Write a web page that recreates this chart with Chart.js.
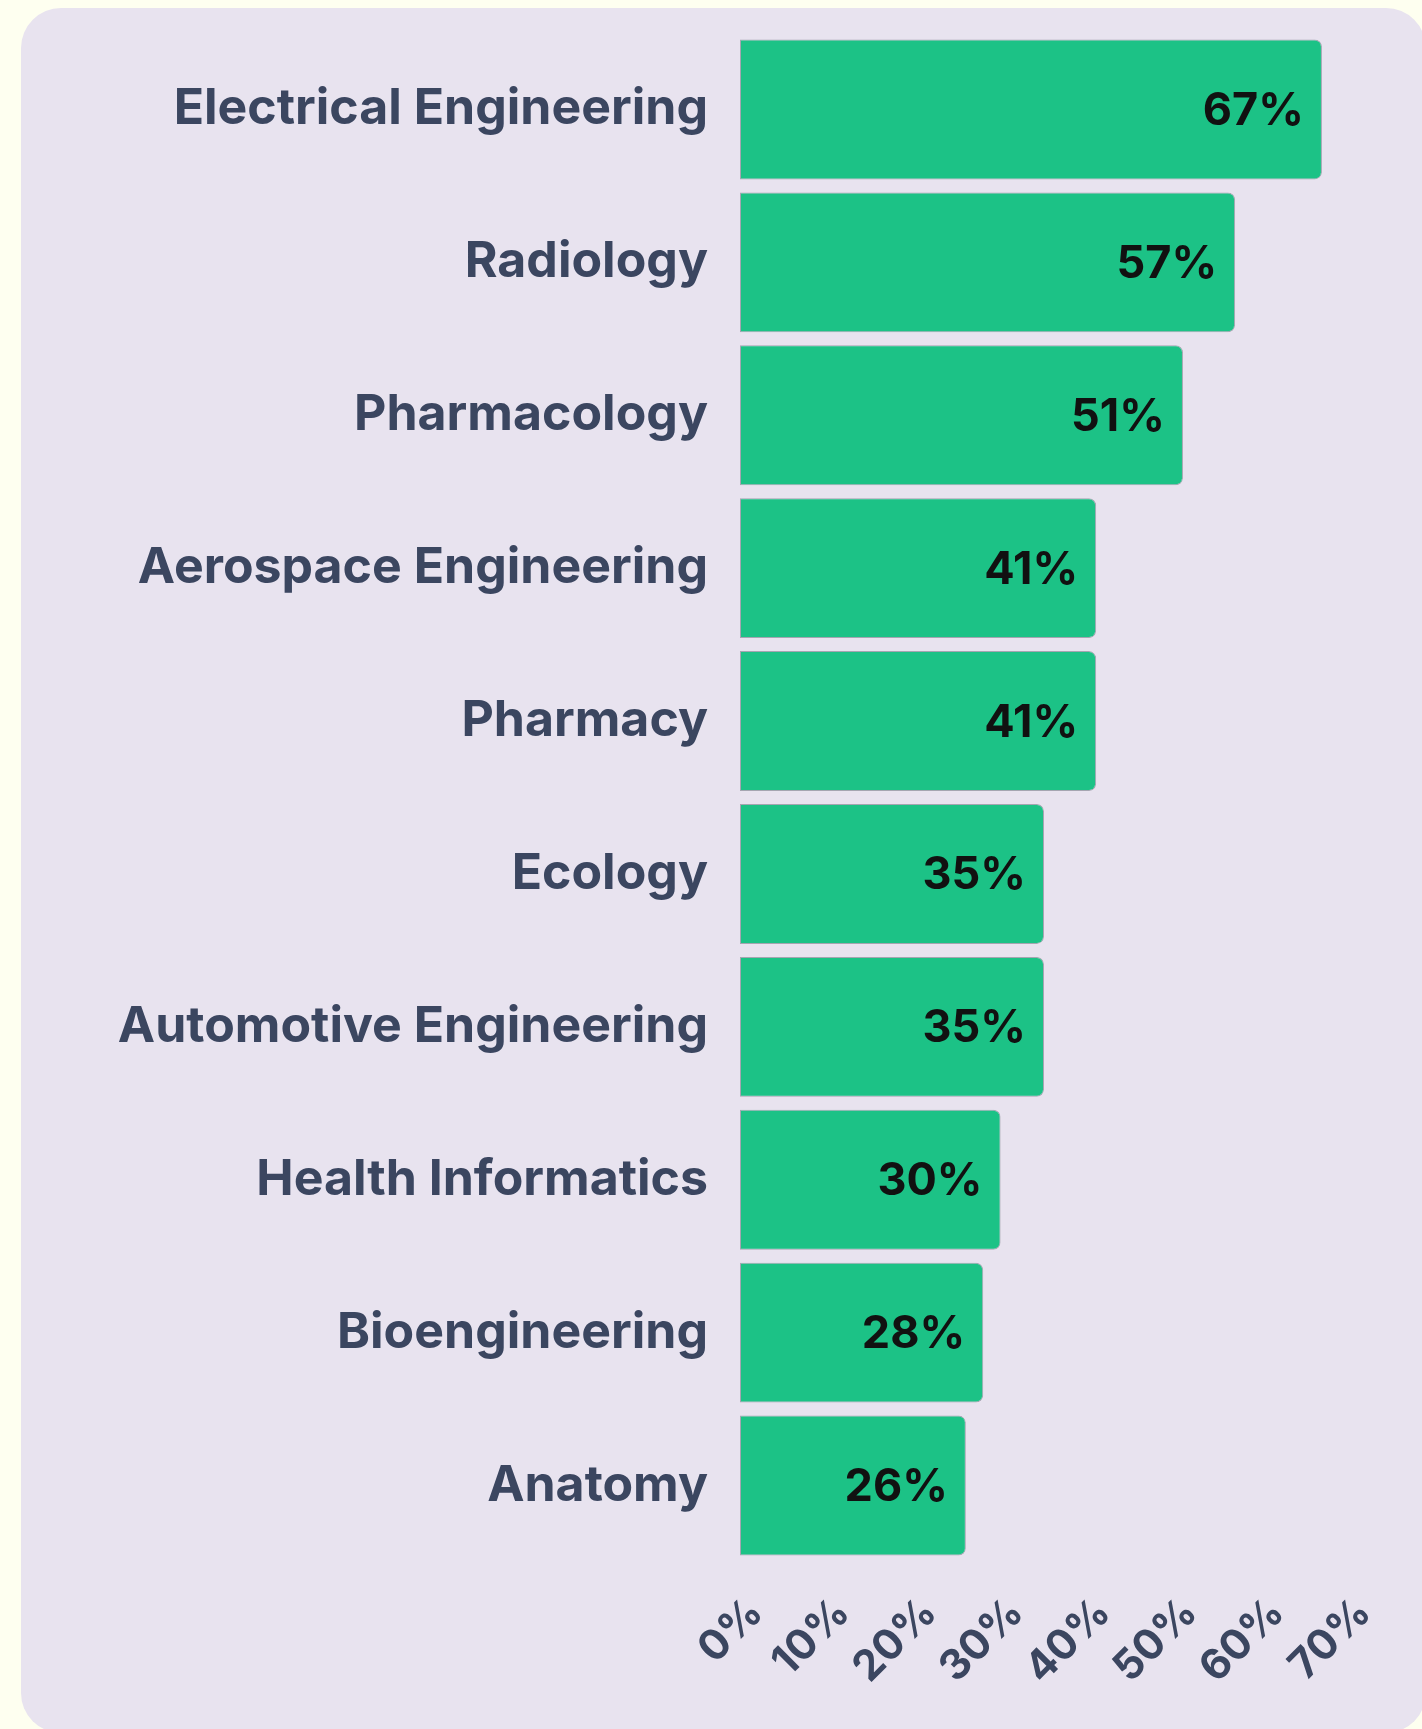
<!DOCTYPE html>
<html lang="en">

<head>
    <meta charset="UTF-8">
    <title>Programs by Share</title>
    <script src="https://cdn.jsdelivr.net/npm/chart.js"></script>
    <style>
        html, body {
            margin: 0;
            padding: 0;
            background: #fefff0;
            overflow: hidden;
        }
        .card {
            position: absolute;
            left: 21px;
            top: 8px;
            width: 1405px;
            height: 1725px;
            background: #e8e3ef;
            border-radius: 40px;
        }
        #chart {
            position: absolute;
            left: 0;
            top: 0;
        }
    </style>
</head>

<body>
    <div class="card"></div>
    <canvas id="chart" width="1422" height="1729"></canvas>

    <script>
        const programs = [
            'Electrical Engineering',
            'Radiology',
            'Pharmacology',
            'Aerospace Engineering',
            'Pharmacy',
            'Ecology',
            'Automotive Engineering',
            'Health Informatics',
            'Bioengineering',
            'Anatomy'
        ];
        const shares = [67, 57, 51, 41, 41, 35, 35, 30, 28, 26];

        const slate = '#3b4660';
        const fontFamily = 'Inter, "Noto Sans", sans-serif';

        // writes the percentage inside the end of each bar
        const valueLabels = {
            id: 'valueLabels',
            afterDatasetsDraw(chart) {
                const ctx = chart.ctx;
                const meta = chart.getDatasetMeta(0);
                ctx.save();
                ctx.font = `700 45px ${fontFamily}`;
                ctx.fillStyle = '#111111';
                ctx.textAlign = 'right';
                ctx.textBaseline = 'middle';
                meta.data.forEach((bar, i) => {
                    ctx.fillText(shares[i] + '%', bar.x - 18, bar.y + 2);
                });
                ctx.restore();
            }
        };

        new Chart(document.getElementById('chart'), {
            type: 'bar',
            data: {
                labels: programs,
                datasets: [{
                    data: shares,
                    backgroundColor: '#1cc286',
                    borderColor: 'rgba(110, 115, 125, 0.55)',
                    borderWidth: 1,
                    borderSkipped: false,
                    borderRadius: { topLeft: 0, bottomLeft: 0, topRight: 7, bottomRight: 7 },
                    categoryPercentage: 1,
                    barPercentage: 0.915
                }]
            },
            options: {
                indexAxis: 'y',
                responsive: false,
                animation: false,
                layout: {
                    padding: { top: 33, right: 74, bottom: 0, left: 0 }
                },
                plugins: {
                    legend: { display: false },
                    tooltip: { enabled: false }
                },
                scales: {
                    x: {
                        min: 0,
                        max: 70,
                        grid: { display: false, drawTicks: false },
                        border: { display: false },
                        ticks: {
                            stepSize: 10,
                            minRotation: 45,
                            maxRotation: 45,
                            padding: 26,
                            labelOffset: 16,
                            color: slate,
                            font: { family: fontFamily, size: 42, weight: '700' },
                            callback: v => v + '%'
                        },
                        afterFit: scale => { scale.height = 167; }
                    },
                    y: {
                        grid: { display: false, drawTicks: false },
                        border: { display: false },
                        ticks: {
                            padding: 32,
                            color: slate,
                            font: { family: fontFamily, size: 50, weight: '700' }
                        },
                        afterFit: scale => {
                            scale.width = 740;
                            scale.paddingTop = 0;
                            scale.paddingBottom = 0;
                        }
                    }
                }
            },
            plugins: [valueLabels]
        });
    </script>
</body>

</html>
